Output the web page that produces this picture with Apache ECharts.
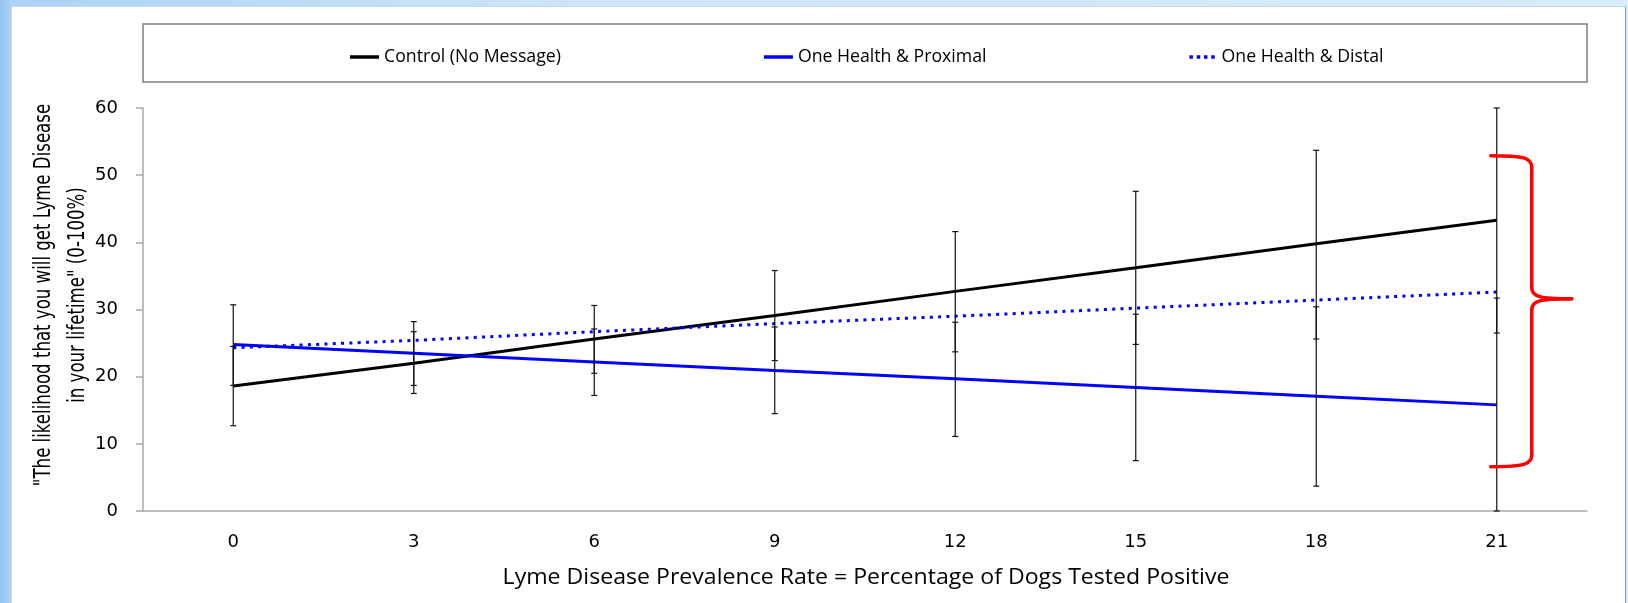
<!DOCTYPE html>
<html>
<head>
<meta charset="utf-8">
<script src="https://cdn.jsdelivr.net/npm/echarts@6/dist/echarts.min.js"></script>
<style>
  html, body { margin: 0; padding: 0; }
  body {
    width: 1628px; height: 603px; overflow: hidden; position: relative;
    background: linear-gradient(to right, #92c4f0 0px, #abd3f5 11px, #cfe4f7 35%, #d9eaf8 100%);
  }
  #panel {
    position: absolute; left: 11px; top: 6px; width: 1613px; height: 600px;
    background: #ffffff; border-left: 1px solid #c4d9ec; border-top: 1px solid #c4d9ec;
    border-right: 1px solid #9a9a9a;
  }
  #chart { position: absolute; left: 0; top: 0; width: 1628px; height: 603px; }
</style>
</head>
<body>
<div id="panel"></div>
<div id="chart"></div>
<script>
// Prevalence rate categories (% of dogs tested positive)
const categories = ['0', '3', '6', '9', '12', '15', '18', '21'];

// Mean perceived likelihood for each message condition
const control  = [18.6, 22.0, 25.6, 29.1, 32.7, 36.2, 39.8, 43.3];
const proximal = [24.8, 23.5, 22.2, 20.9, 19.7, 18.4, 17.1, 15.8];
const distal   = [24.3, 25.4, 26.7, 27.9, 29.0, 30.2, 31.4, 32.6];

// Error bar extents (lower / upper)
const controlLow   = [12.7, 17.5, 20.5, 22.4, 23.7, 24.8, 25.6, 26.5];
const controlHigh  = [24.5, 26.7, 30.6, 35.8, 41.6, 47.6, 53.7, 60.0];
const proximalLow  = [18.7, 18.7, 17.2, 14.5, 11.1, 7.5, 3.7, 0.0];
const proximalHigh = [30.7, 28.2, 27.1, 27.4, 28.1, 29.3, 30.4, 31.7];

// Brace spanning the spread at the highest prevalence rate: top, bottom, tip
const braceSpan = [52.9, 6.6, 31.6];

const seriesNames = ['Control (No Message)', 'One Health & Proximal', 'One Health & Distal'];
const yTitle = '"The likelihood that you will get Lyme Disease\nin your lifetime" (0-100%)';
const xTitle = 'Lyme Disease Prevalence Rate = Percentage of Dogs Tested Positive';

// Legend swatches: solid bars for the solid lines, a row of dots for the dotted one
const solidIcon = 'rect';
const dottedIcon = 'path://M0,0h4v4h-4z M8.3,0h4v4h-4z M16.6,0h4v4h-4z M24.9,0h4v4h-4z';

const chart = echarts.init(document.getElementById('chart'), null, { renderer: 'canvas' });

function errorBars(lows, highs) {
  return {
    type: 'custom',
    z: 5,
    silent: true,
    data: categories.map((c, i) => [i, lows[i], highs[i]]),
    encode: { x: 0, y: [1, 2] },
    renderItem: function (params, api) {
      const i = api.value(0);
      const lo = api.coord([i, api.value(1)]);
      const hi = api.coord([i, api.value(2)]);
      const half = 3;
      const st = { stroke: '#111111', lineWidth: 1.2 };
      return {
        type: 'group',
        children: [
          { type: 'line', shape: { x1: lo[0], y1: lo[1], x2: hi[0], y2: hi[1] }, style: st },
          { type: 'line', shape: { x1: lo[0] - half, y1: lo[1], x2: lo[0] + half, y2: lo[1] }, style: st },
          { type: 'line', shape: { x1: hi[0] - half, y1: hi[1], x2: hi[0] + half, y2: hi[1] }, style: st }
        ]
      };
    }
  };
}

const braceSeries = {
  type: 'custom',
  z: 6,
  silent: true,
  data: [[categories.length - 1, braceSpan[0], braceSpan[1], braceSpan[2]]],
  encode: { x: 0, y: [1, 2, 3] },
  renderItem: function (params, api) {
    const i = api.value(0);
    const top = api.coord([i, api.value(1)]);
    const bot = api.coord([i, api.value(2)]);
    const tip = api.coord([i, api.value(3)]);
    const x0 = top[0] - 6, xv = top[0] + 35, xt = top[0] + 75;
    const st = { stroke: '#ff0000', lineWidth: 3.5, fill: null, lineCap: 'round' };
    return {
      type: 'group',
      children: [
        { type: 'bezierCurve', shape: { x1: x0, y1: top[1], cpx1: xv - 8, cpy1: top[1], cpx2: xv, cpy2: top[1] + 2, x2: xv, y2: top[1] + 12 }, style: st },
        { type: 'line', shape: { x1: xv, y1: top[1] + 12, x2: xv, y2: tip[1] - 11 }, style: st },
        { type: 'bezierCurve', shape: { x1: xv, y1: tip[1] - 11, cpx1: xv, cpy1: tip[1] - 2, cpx2: xv + 8, cpy2: tip[1], x2: xt, y2: tip[1] }, style: st },
        { type: 'bezierCurve', shape: { x1: xt, y1: tip[1], cpx1: xv + 8, cpy1: tip[1], cpx2: xv, cpy2: tip[1] + 2, x2: xv, y2: tip[1] + 11 }, style: st },
        { type: 'line', shape: { x1: xv, y1: tip[1] + 11, x2: xv, y2: bot[1] - 12 }, style: st },
        { type: 'bezierCurve', shape: { x1: xv, y1: bot[1] - 12, cpx1: xv, cpy1: bot[1] - 2, cpx2: xv - 8, cpy2: bot[1], x2: x0, y2: bot[1] }, style: st }
      ]
    };
  }
};

const axisGray = '#a9a9a9';

chart.setOption({
  animation: false,
  backgroundColor: 'transparent',
  grid: { left: 143, right: 41, top: 108, bottom: 92, containLabel: false },
  legend: {
    data: [
      { name: seriesNames[0], icon: solidIcon },
      { name: seriesNames[1], icon: solidIcon },
      { name: seriesNames[2], icon: dottedIcon }
    ],
    left: 345,
    top: 43,
    itemGap: 203,
    itemWidth: 29,
    itemHeight: 3.5,
    textStyle: { fontFamily: '"Open Sans", sans-serif', fontSize: 17.7, color: '#000' }
  },
  graphic: [
    {
      type: 'rect',
      shape: { x: 143, y: 24, width: 1444, height: 58 },
      style: { fill: null, stroke: '#808080', lineWidth: 1.5 },
      z: -1
    },
    {
      type: 'text',
      x: 61, y: 295,
      rotation: Math.PI / 2,
      scaleX: 0.82,
      style: {
        text: yTitle,
        fontFamily: '"Liberation Sans Narrow", "DejaVu Sans Condensed", "Open Sans", sans-serif',
        fontSize: 22.5,
        lineHeight: 34,
        align: 'center',
        verticalAlign: 'middle',
        fill: '#000'
      }
    },
    {
      type: 'text',
      x: 866, y: 578,
      scaleX: 1.1,
      style: {
        text: xTitle,
        fontFamily: '"Open Sans", sans-serif',
        fontSize: 21,
        align: 'center',
        verticalAlign: 'middle',
        fill: '#000'
      }
    }
  ],
  xAxis: {
    type: 'category',
    data: categories,
    boundaryGap: true,
    axisLine: { lineStyle: { color: axisGray, width: 1.5 } },
    axisTick: { show: false },
    axisLabel: { margin: 22, fontFamily: '"DejaVu Sans", sans-serif', fontSize: 18, color: '#000' },
    splitLine: { show: false }
  },
  yAxis: {
    type: 'value',
    min: 0, max: 60, interval: 10,
    axisLine: { show: true, lineStyle: { color: axisGray, width: 1.5 } },
    axisTick: { show: true, length: 7, lineStyle: { color: axisGray, width: 1.5 } },
    axisLabel: { margin: 25, fontFamily: '"DejaVu Sans", sans-serif', fontSize: 18, color: '#000' },
    splitLine: { show: false }
  },
  series: [
    {
      name: seriesNames[0], type: 'line', data: control, symbol: 'none', z: 3,
      lineStyle: { color: '#000000', width: 3 }, itemStyle: { color: '#000000' }
    },
    {
      name: seriesNames[1], type: 'line', data: proximal, symbol: 'none', z: 3,
      lineStyle: { color: '#0000ff', width: 3 }, itemStyle: { color: '#0000ff' }
    },
    {
      name: seriesNames[2], type: 'line', data: distal, symbol: 'none', z: 3,
      lineStyle: { color: '#0000ff', width: 3, type: [3, 5.3] }, itemStyle: { color: '#0000ff' }
    },
    errorBars(controlLow, controlHigh),
    errorBars(proximalLow, proximalHigh),
    braceSeries
  ]
});
</script>
</body>
</html>
